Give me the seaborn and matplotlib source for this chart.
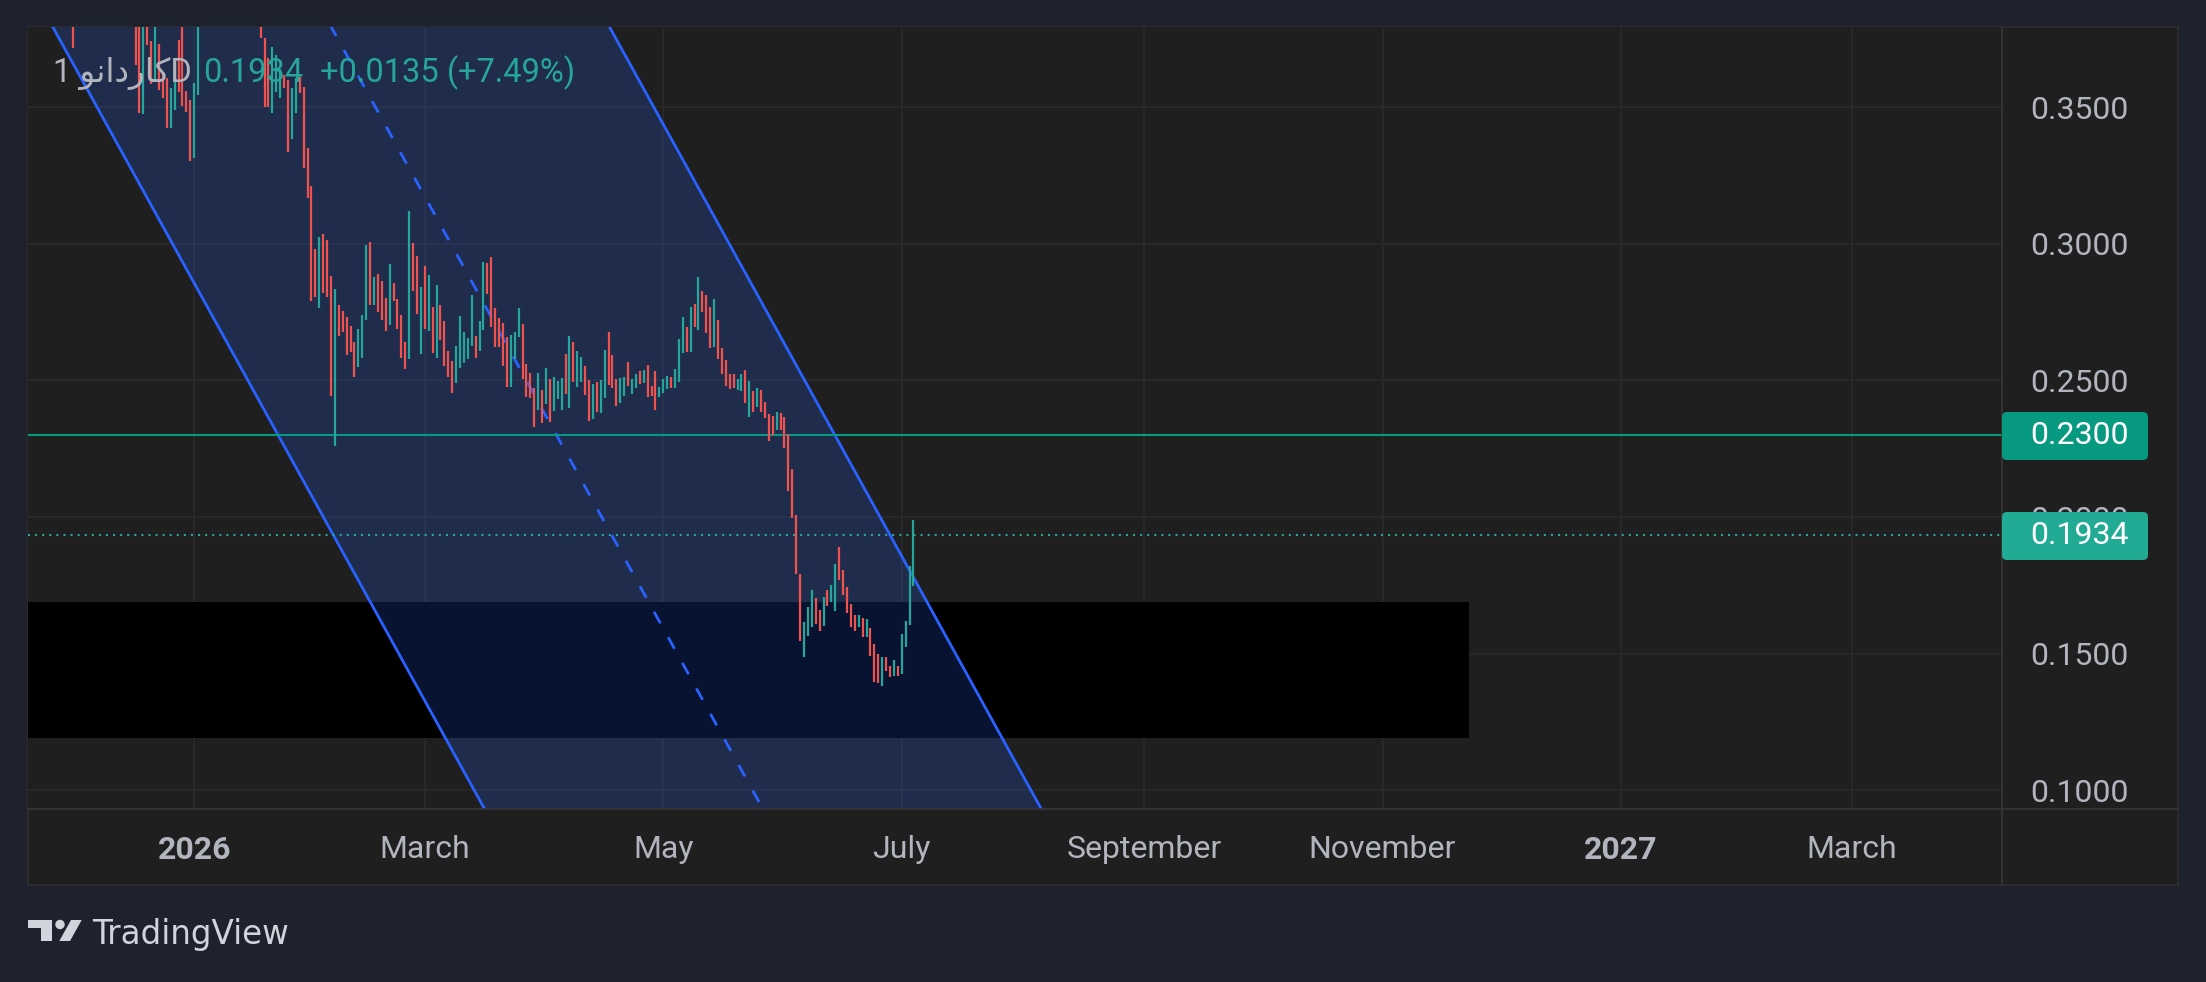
import numpy as np
import pandas as pd
import matplotlib
matplotlib.use("Agg")
import matplotlib.pyplot as plt
import matplotlib.dates as mdates
import matplotlib.transforms as mtransforms
from matplotlib.patches import Rectangle, FancyBboxPatch, Circle, Polygon
from matplotlib.lines import Line2D
import seaborn as sns

# ---- candle data (daily, ADA/USD) ----
# three visible runs; days in between trade above the top of the chart
seg_starts = ["2025-12-01", "2025-12-17", "2026-01-18"]

high_a = [0.390]
low_a = [0.3717]
dir_a = "d"

high_b = [0.390, 0.390, 0.390, 0.390, 0.3740, 0.390, 0.3730, 0.3629, 0.3605,
          0.3568, 0.3605, 0.3745, 0.390, 0.3559, 0.3526, 0.3587, 0.390]
low_b = [0.3654, 0.3477, 0.3473, 0.3727, 0.3583, 0.3601, 0.3562, 0.3532, 0.3424,
         0.3422, 0.3489, 0.3556, 0.3505, 0.3483, 0.3302, 0.3315, 0.3544]
dir_b = "ddudduddduudddduu"

high_c = [0.390, 0.3751, 0.3678, 0.3721, 0.3690, 0.3641, 0.3617, 0.3599, 0.3568, 0.3605,
          0.3611, 0.3574, 0.3349, 0.3211, 0.2980, 0.3026, 0.3036, 0.3014, 0.2882, 0.2834,
          0.2776, 0.2754, 0.2733, 0.2700, 0.2640, 0.2688, 0.2739, 0.2995, 0.3007, 0.2877,
          0.2889, 0.2864, 0.2800, 0.2926, 0.2856, 0.2798, 0.2739, 0.2640, 0.3120, 0.3004,
          0.2955, 0.2843, 0.2918, 0.2886, 0.2770, 0.2849, 0.2776, 0.2718, 0.2608, 0.2571,
          0.2627, 0.2736, 0.2678, 0.2656, 0.2812, 0.2664, 0.2717, 0.2933, 0.2928, 0.2950,
          0.2765, 0.2727, 0.2709, 0.2660, 0.2666, 0.2678, 0.2764, 0.2706, 0.2560, 0.2528,
          0.2471, 0.2526, 0.2465, 0.2544, 0.2504, 0.2514, 0.2498, 0.2508, 0.2597, 0.2662,
          0.2639, 0.2608, 0.2587, 0.2553, 0.2502, 0.2487, 0.2496, 0.2502, 0.2611, 0.2676,
          0.2593, 0.2505, 0.2508, 0.2511, 0.2566, 0.2507, 0.2522, 0.2534, 0.2538, 0.2556,
          0.2479, 0.2534, 0.2477, 0.2505, 0.2516, 0.2512, 0.2541, 0.2651, 0.2733, 0.2696,
          0.2770, 0.2779, 0.2878, 0.2827, 0.2812, 0.2770, 0.2797, 0.2721, 0.2617, 0.2574,
          0.2523, 0.2523, 0.2505, 0.2525, 0.2538, 0.2497, 0.2461, 0.2473, 0.2464, 0.2422,
          0.2376, 0.2371, 0.2383, 0.2379, 0.2365, 0.2304, 0.2176, 0.2007, 0.1792, 0.1617,
          0.1670, 0.1735, 0.1703, 0.1660, 0.1706, 0.1735, 0.1751, 0.1828, 0.1892, 0.1806,
          0.1743, 0.1682, 0.1642, 0.1642, 0.1632, 0.1627, 0.1593, 0.1535, 0.1499, 0.1489,
          0.1489, 0.1456, 0.1477, 0.1456, 0.1572, 0.1621, 0.1822, 0.1989]
low_c = [0.3754, 0.3501, 0.3501, 0.3480, 0.3556, 0.3532, 0.3568, 0.3334, 0.3382, 0.3477,
         0.3550, 0.3276, 0.3168, 0.2792, 0.2806, 0.2764, 0.2821, 0.2806, 0.2443, 0.2261,
         0.2664, 0.2677, 0.2593, 0.2604, 0.2514, 0.2550, 0.2583, 0.2721, 0.2776, 0.2776,
         0.2749, 0.2721, 0.2680, 0.2703, 0.2790, 0.2688, 0.2583, 0.2542, 0.2578, 0.2827,
         0.2743, 0.2595, 0.2688, 0.2682, 0.2601, 0.2583, 0.2648, 0.2554, 0.2514, 0.2455,
         0.2489, 0.2547, 0.2565, 0.2578, 0.2627, 0.2583, 0.2609, 0.2684, 0.2816, 0.2694,
         0.2623, 0.2621, 0.2554, 0.2477, 0.2475, 0.2580, 0.2658, 0.2504, 0.2440, 0.2437,
         0.2328, 0.2392, 0.2343, 0.2412, 0.2347, 0.2388, 0.2432, 0.2392, 0.2449, 0.2398,
         0.2495, 0.2477, 0.2495, 0.2447, 0.2353, 0.2358, 0.2386, 0.2380, 0.2437, 0.2483,
         0.2471, 0.2408, 0.2419, 0.2444, 0.2481, 0.2451, 0.2471, 0.2486, 0.2489, 0.2441,
         0.2443, 0.2391, 0.2441, 0.2455, 0.2470, 0.2473, 0.2473, 0.2495, 0.2602, 0.2605,
         0.2605, 0.2696, 0.2685, 0.2749, 0.2672, 0.2617, 0.2623, 0.2577, 0.2525, 0.2480,
         0.2467, 0.2471, 0.2464, 0.2463, 0.2416, 0.2367, 0.2385, 0.2404, 0.2385, 0.2361,
         0.2279, 0.2300, 0.2318, 0.2318, 0.2254, 0.2096, 0.1998, 0.1790, 0.1548, 0.1489,
         0.1566, 0.1599, 0.1609, 0.1584, 0.1603, 0.1676, 0.1690, 0.1657, 0.1770, 0.1715,
         0.1648, 0.1599, 0.1584, 0.1599, 0.1560, 0.1560, 0.1493, 0.1398, 0.1392, 0.1383,
         0.1438, 0.1414, 0.1419, 0.1420, 0.1426, 0.1526, 0.1605, 0.1749]
dir_c = ("ddduuudduu" "dddddudddu" "ddddduuudu" "ddduddddud" "dudududddd"
         "uuuuuduudd" "dddduuuddd" "dududuuudu" "duudduduud" "dduuduudud"
         "dduuuduuud" "ududdduddd" "dduudududd" "dduddddddu" "uudduduudd"
         "dddududddu" "dduduuuu")

# ---- drawings ----
channel_dates = ["2025-11-01", "2026-09-01"]
channel_upper = [0.8125, 0.0251]
channel_lower = [0.4436, -0.3438]

zone_dates = ["2025-10-01", "2026-11-23"]
zone_low, zone_high = 0.119, 0.169

level_line = 0.2300
last_price = 0.1934
change_txt = "+0.0135 (+7.49%)"

price_ticks = [0.10, 0.15, 0.20, 0.25, 0.30, 0.35]
tick_dates = ["2026-01-01", "2026-03-01", "2026-05-01", "2026-07-01",
              "2026-09-01", "2026-11-01", "2027-01-01", "2027-03-01"]
tick_labels = ["2026", "March", "May", "July", "September", "November", "2027", "March"]

# ---- build the candle table ----
frames = []
for start, hi, lo, dr in [(seg_starts[0], high_a, low_a, dir_a),
                          (seg_starts[1], high_b, low_b, dir_b),
                          (seg_starts[2], high_c, low_c, dir_c)]:
    n = min(len(hi), len(lo), len(dr))
    frames.append(pd.DataFrame({
        "date": pd.date_range(start, periods=n, freq="D"),
        "high": hi[:n], "low": lo[:n], "dir": list(dr[:n])}))
candles = pd.concat(frames, ignore_index=True)
candles["x"] = mdates.date2num(candles["date"])

UP, DOWN = "#26a69a", "#ef5350"
BLUE = "#2962ff"
TEXT = "#b2b5be"

sns.set_theme(style="dark")
plt.rcParams["font.family"] = ["Roboto", "DejaVu Sans"]

W, H = 2206, 982
fig = plt.figure(figsize=(W / 100, H / 100), dpi=100)
fig.patch.set_facecolor("#1e222d")
px = mtransforms.IdentityTransform()


def py(y):
    return H - y


# chart panel
fig.add_artist(Rectangle((28, py(885)), 2150, 858, transform=px,
                         facecolor="#1f1f1f", edgecolor="#2e2e2e", lw=1.2, zorder=-1))

ax = fig.add_axes([28 / W, 1 - 809 / H, (2002 - 28) / W, (809 - 27) / H])
ax.set_facecolor("#1f1f1f")
for s in ax.spines.values():
    s.set_visible(False)

x0 = mdates.date2num(pd.Timestamp("2026-01-01"))
ax.set_xlim(x0 - 42.52, x0 + 462.47)
ax.set_ylim(0.0932, 0.3793)

ax.grid(True, color="#2a2a2a", lw=1.2)
ax.set_axisbelow(True)

# dark zone
zx = mdates.date2num(pd.to_datetime(zone_dates))
ax.fill_between(zx, zone_low, zone_high, color="black", lw=0, zorder=1)

# parallel channel
cx = mdates.date2num(pd.to_datetime(channel_dates))
cu = np.array(channel_upper)
cl = np.array(channel_lower)
ax.fill_between(cx, cl, cu, color=BLUE, alpha=0.2, lw=0, zorder=2)
chan = pd.DataFrame({"x": np.r_[cx, cx], "y": np.r_[cu, cl], "side": ["up", "up", "lo", "lo"]})
sns.lineplot(data=chan, x="x", y="y", units="side", estimator=None, color=BLUE,
             lw=2.0, ax=ax, zorder=3)
ax.plot(cx, (cu + cl) / 2, color=BLUE, lw=2.0, ls=(0, (4.7, 5.8)), zorder=3)

ax.axhline(level_line, color="#089981", lw=1.5, zorder=3)
ax.axhline(last_price, color=UP, lw=1.5, ls=(0, (1, 2.4)), zorder=3)

cols = np.where(candles["dir"] == "u", UP, DOWN)
ax.vlines(candles["x"], candles["low"], candles["high"], colors=cols, lw=1.6, zorder=4)

ax.set_xlabel("")
ax.set_ylabel("")
ax.yaxis.tick_right()
ax.set_yticks(price_ticks)
ax.set_yticklabels([f"{v:.4f}" for v in price_ticks])
ax.set_xticks(mdates.date2num(pd.to_datetime(tick_dates)))
ax.set_xticklabels(tick_labels)
for lab in ax.get_xticklabels():
    if lab.get_text().isdigit():
        lab.set_fontweight("bold")
ax.tick_params(axis="y", length=0, pad=20, labelsize=23, labelcolor=TEXT)
ax.tick_params(axis="x", length=0, pad=19, labelsize=23, labelcolor=TEXT)

# separators of the price and time scales
fig.add_artist(Line2D([2002, 2002], [py(27), py(885)], transform=px, color="#363636", lw=1.2, zorder=1))
fig.add_artist(Line2D([28, 2178], [py(809), py(809)], transform=px, color="#363636", lw=1.2, zorder=1))

# price tags on the scale
for val, yc, fc in [(level_line, 436, "#089981"), (last_price, 536, "#22ab94")]:
    fig.add_artist(FancyBboxPatch((2002, py(yc + 24)), 146, 48, transform=px,
                                  boxstyle="round,pad=0,rounding_size=5",
                                  facecolor=fc, edgecolor="none", zorder=5))
    fig.text(2030, py(yc), f"{val:.4f}", transform=px, color="white", fontsize=23,
             va="center", ha="left", zorder=6)

# legend line
title = "1 " + "\ufeee\ufee7\ufe8d\ufea9\ufead\ufe8e\ufb90" + "D"
fig.text(53, py(82), title, transform=px, color=TEXT, fontsize=23.5, va="baseline",
         family=["Roboto", "DejaVu Sans"], zorder=6)
fig.text(203, py(82), f"{last_price:.4f}", transform=px, color=UP, fontsize=23.5,
         va="baseline", zorder=6)
fig.text(320, py(82), change_txt, transform=px, color=UP, fontsize=23.5,
         va="baseline", zorder=6)

# TradingView mark
LOGO = "#d1d4dc"
fig.add_artist(Rectangle((28.3, py(928.3)), 24, 8.3, transform=px, color=LOGO, lw=0))
fig.add_artist(Rectangle((40.7, py(941)), 11.6, 21, transform=px, color=LOGO, lw=0))
fig.add_artist(Circle((60, py(924.5)), 4.7, transform=px, color=LOGO, lw=0))
fig.add_artist(Polygon([(59.3, py(941)), (70, py(941)), (81.7, py(920)), (71, py(920))],
                       closed=True, transform=px, color=LOGO, lw=0))
fig.text(91.7, py(944), "TradingView", transform=px, color=LOGO, fontsize=23.5,
         va="baseline", family="DejaVu Sans")

fig.savefig("out.png", dpi=100, facecolor=fig.get_facecolor())
